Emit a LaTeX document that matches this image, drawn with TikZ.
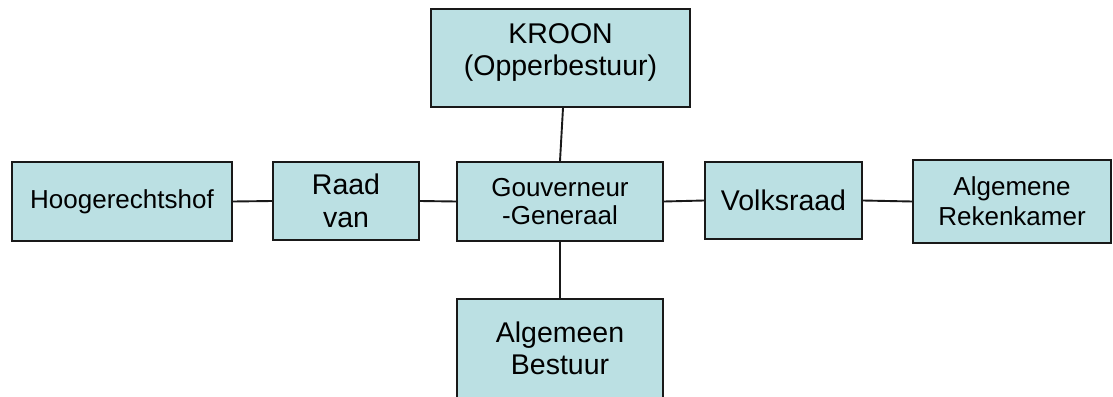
\documentclass[tikz,border=0pt]{standalone}
\usepackage{fontspec}
\setmainfont{Liberation Sans}
\definecolor{boxfill}{RGB}{187,224,227}
\begin{document}
\begin{tikzpicture}[x=1pt,y=-1pt,
  orgbox/.style={draw=black!90, line width=1.9pt, fill=boxfill, inner sep=0pt, align=center, anchor=center},
  big/.style={font=\fontsize{28.5}{32}\selectfont},
  small/.style={font=\fontsize{26}{29}\selectfont},
  link/.style={draw=black!90, line width=1.9pt}]
\useasboundingbox (0,0) rectangle (1113,396);
\clip (0,0) rectangle (1113,396);
\node[orgbox, big, minimum width=259pt, minimum height=98pt] (kroon) at (560.5,58) {KROON\\(Opperbestuur)\\[-16pt]\mbox{}};
\node[orgbox, small, minimum width=220pt, minimum height=79pt] (hoog) at (122,201.5) {Hoogerechtshof};
\node[orgbox, big, font=\fontsize{28.5}{33}\selectfont, minimum width=146pt, minimum height=78pt] (raad) at (346,201) {Raad\\van};
\node[orgbox, small, font=\fontsize{26}{28}\selectfont, minimum width=206pt, minimum height=79pt] (gouv) at (560,201.5) {Gouverneur\\-Generaal};
\node[orgbox, big, minimum width=157pt, minimum height=77pt] (volks) at (783.5,200.5) {Volksraad};
\node[orgbox, small, font=\fontsize{26}{30}\selectfont, minimum width=198pt, minimum height=83pt] (alg) at (1012,201.5) {Algemene\\Rekenkamer};
\node[orgbox, big, minimum width=206pt, minimum height=99pt] (best) at (560,348.5) {Algemeen\\Bestuur};
\draw[link] ([xshift=2.5pt]kroon.south) -- (gouv.north);
\draw[link] (hoog.east) -- (raad.west);
\draw[link] (raad.east) -- (gouv.west);
\draw[link] (gouv.east) -- (volks.west);
\draw[link] (volks.east) -- (alg.west);
\draw[link] (gouv.south) -- (best.north);
\end{tikzpicture}
\end{document}
